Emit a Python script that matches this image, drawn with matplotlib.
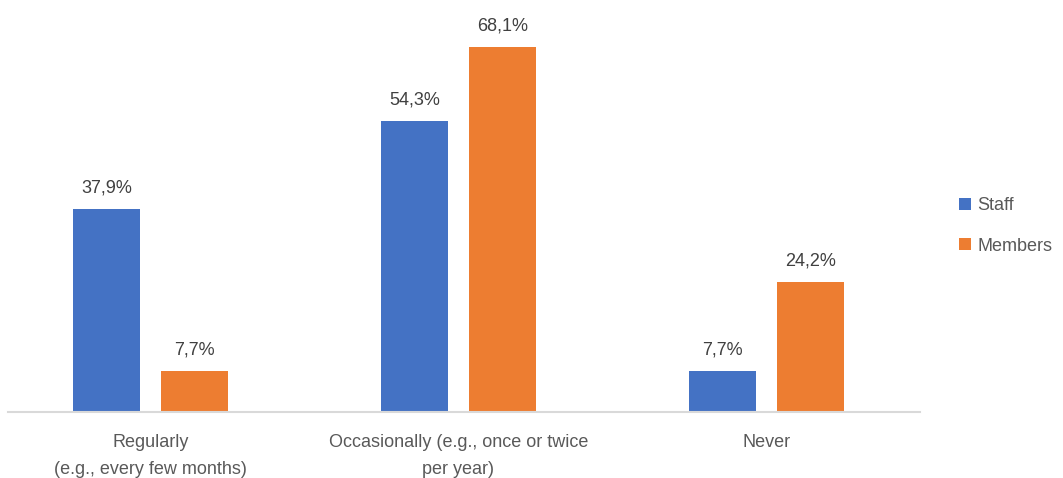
import numpy as np
import matplotlib.pyplot as plt

categories = ['Regularly\n(e.g., every few months)',
              'Occasionally (e.g., once or twice\nper year)',
              'Never']
staff = [37.9, 54.3, 7.7]
members = [7.7, 68.1, 24.2]

blue = '#4472C4'
orange = '#ED7D31'
grey = '#595959'

plt.rcParams['font.family'] = ['Liberation Sans', 'DejaVu Sans']

fig = plt.figure(figsize=(10.63, 4.78), dpi=100)
# axes placed in pixels: x from -3 to 920, baseline at y=412, top at 37
W, H = 1063, 478
ax = fig.add_axes([-3 / W, (H - 412) / H, 923 / W, 375 / H])

x = np.arange(len(categories))
width = 0.218
off = 0.143
b1 = ax.bar(x - off, staff, width, color=blue, label='Staff')
b2 = ax.bar(x + off, members, width, color=orange, label='Members')

for bars, vals in [(b1, staff), (b2, members)]:
    for rect, v in zip(bars, vals):
        ax.annotate(f'{v:.1f}%'.replace('.', ','),
                    (rect.get_x() + rect.get_width() / 2, v),
                    xytext=(0, 9), textcoords='offset points',
                    ha='center', va='bottom', fontsize=13, color='#404040')

ax.set_xlim(-0.5, 2.5)
ax.set_ylim(0, 70)
ax.set_xticks(x)
ax.set_xticklabels(categories, fontsize=13, color=grey, linespacing=1.75)
ax.tick_params(axis='x', length=0, pad=16)
ax.set_yticks([])
for s in ['top', 'right', 'left']:
    ax.spines[s].set_visible(False)
ax.spines['bottom'].set_color('#D9D9D9')
ax.spines['bottom'].set_linewidth(1.5)
ax.spines['bottom'].set_bounds(-0.465, 2.5)

leg = fig.legend(loc='center left', bbox_to_anchor=(943 / W, 1 - 226 / H),
                 frameon=False, fontsize=13, handlelength=0.65,
                 handleheight=0.65, handletextpad=0.35, labelspacing=1.3)
for t in leg.get_texts():
    t.set_color(grey)

fig.savefig('out.png', dpi=100)
